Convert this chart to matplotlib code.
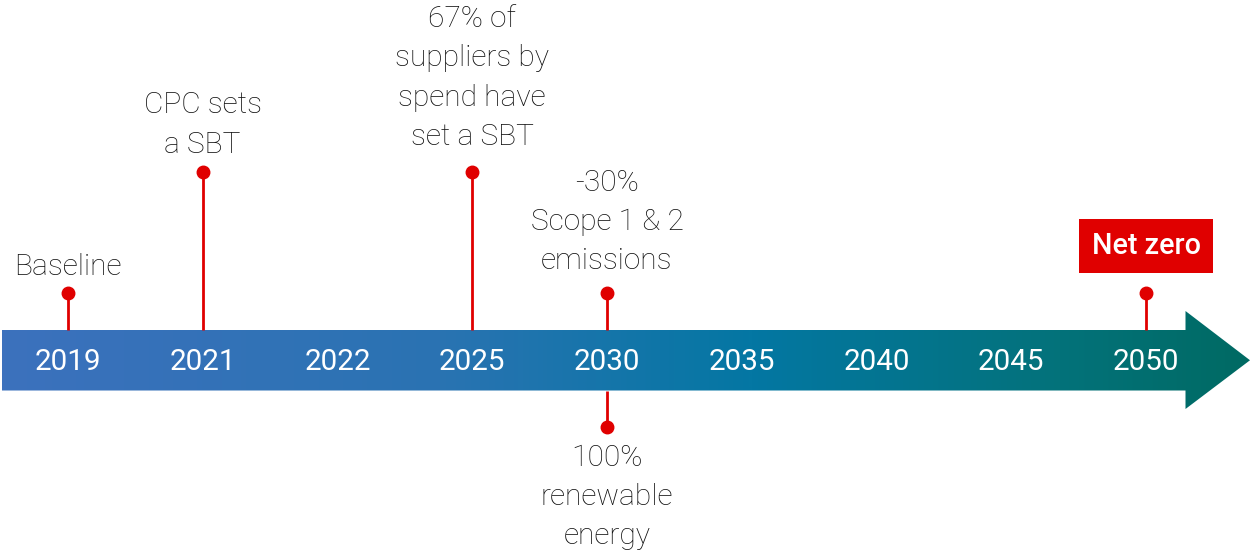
import numpy as np
import matplotlib.pyplot as plt
from matplotlib.colors import LinearSegmentedColormap
from matplotlib.patches import Polygon

plt.rcParams['font.family'] = ['Roboto', 'DejaVu Sans']

years = ['2019', '2021', '2022', '2025', '2030', '2035', '2040', '2045', '2050']
milestone_years = ['2019', '2021', '2025', '2030', '2030', '2050']
milestone_text = ['Baseline',
                  'CPC sets\na SBT',
                  '67% of\nsuppliers by\nspend have\nset a SBT',
                  '-30%\nScope 1 & 2\nemissions',
                  '100%\nrenewable\nenergy',
                  'Net zero']
# layout: which side of the arrow, how long the stem, where the text sits
side = ['up', 'up', 'up', 'up', 'down', 'up']
stem_end = [293, 172, 172, 293, 427, 293]
text_y = [267, 125, 78, 222, 497, 246]

red = '#e00000'
ink = '#111111'

fig = plt.figure(figsize=(12.5, 5.55), dpi=100)
ax = fig.add_axes([0, 0, 1, 1])
step = 134.75
x0 = 68
ax.set_xlim(-x0 / step, (1250 - x0) / step)
ax.set_ylim(555, 0)
ax.axis('off')

band_top, band_bot = 330, 390.5
head_top, head_bot = 311, 409
left = (2 - x0) / step
head_x = (1185.5 - x0) / step
tip_x = (1250 - x0) / step
mid = (band_top + band_bot) / 2

# gradient arrow
cmap = LinearSegmentedColormap.from_list(
    'arrow', [(0, '#3c71bd'), (0.35, '#2a73b2'), (0.6, '#0477a3'),
              (0.85, '#03727a'), (1, '#006a63')])
grad = np.linspace(0, 1, 512).reshape(1, -1)
im = ax.imshow(grad, cmap=cmap, aspect='auto',
               extent=[left, tip_x, head_bot, head_top], zorder=1)
arrow = Polygon([(left, band_top), (head_x, band_top), (head_x, head_top),
                 (tip_x, mid), (head_x, head_bot), (head_x, band_bot),
                 (left, band_bot)], closed=True, facecolor='none',
                edgecolor='none')
ax.add_patch(arrow)
im.set_clip_path(arrow)
ax.set_ylim(555, 0)

for i, y in enumerate(years):
    ax.text(i, mid + 2, y, color='white', fontsize=21.3, ha='center',
            va='center', zorder=3)

for yr, txt, sd, se, ty in zip(milestone_years, milestone_text, side,
                               stem_end, text_y):
    i = years.index(yr)
    start = band_top if sd == 'up' else band_bot
    ax.plot([i, i], [start, se], color=red, lw=2, zorder=2,
            solid_capstyle='butt')
    ax.plot(i, se, 'o', color=red, ms=9, zorder=2)
    if txt == 'Net zero':
        ax.text(i, ty, txt, color='white', fontsize=20.7, fontweight='medium',
                ha='center', va='center', zorder=3,
                bbox=dict(boxstyle='square,pad=0.45', fc=red, ec='none'))
    else:
        ax.text(i, ty, txt, color=ink, fontsize=21.5, fontweight='light',
                ha='center', va='center', linespacing=1.51, zorder=3)

fig.savefig('out.png', dpi=100)
